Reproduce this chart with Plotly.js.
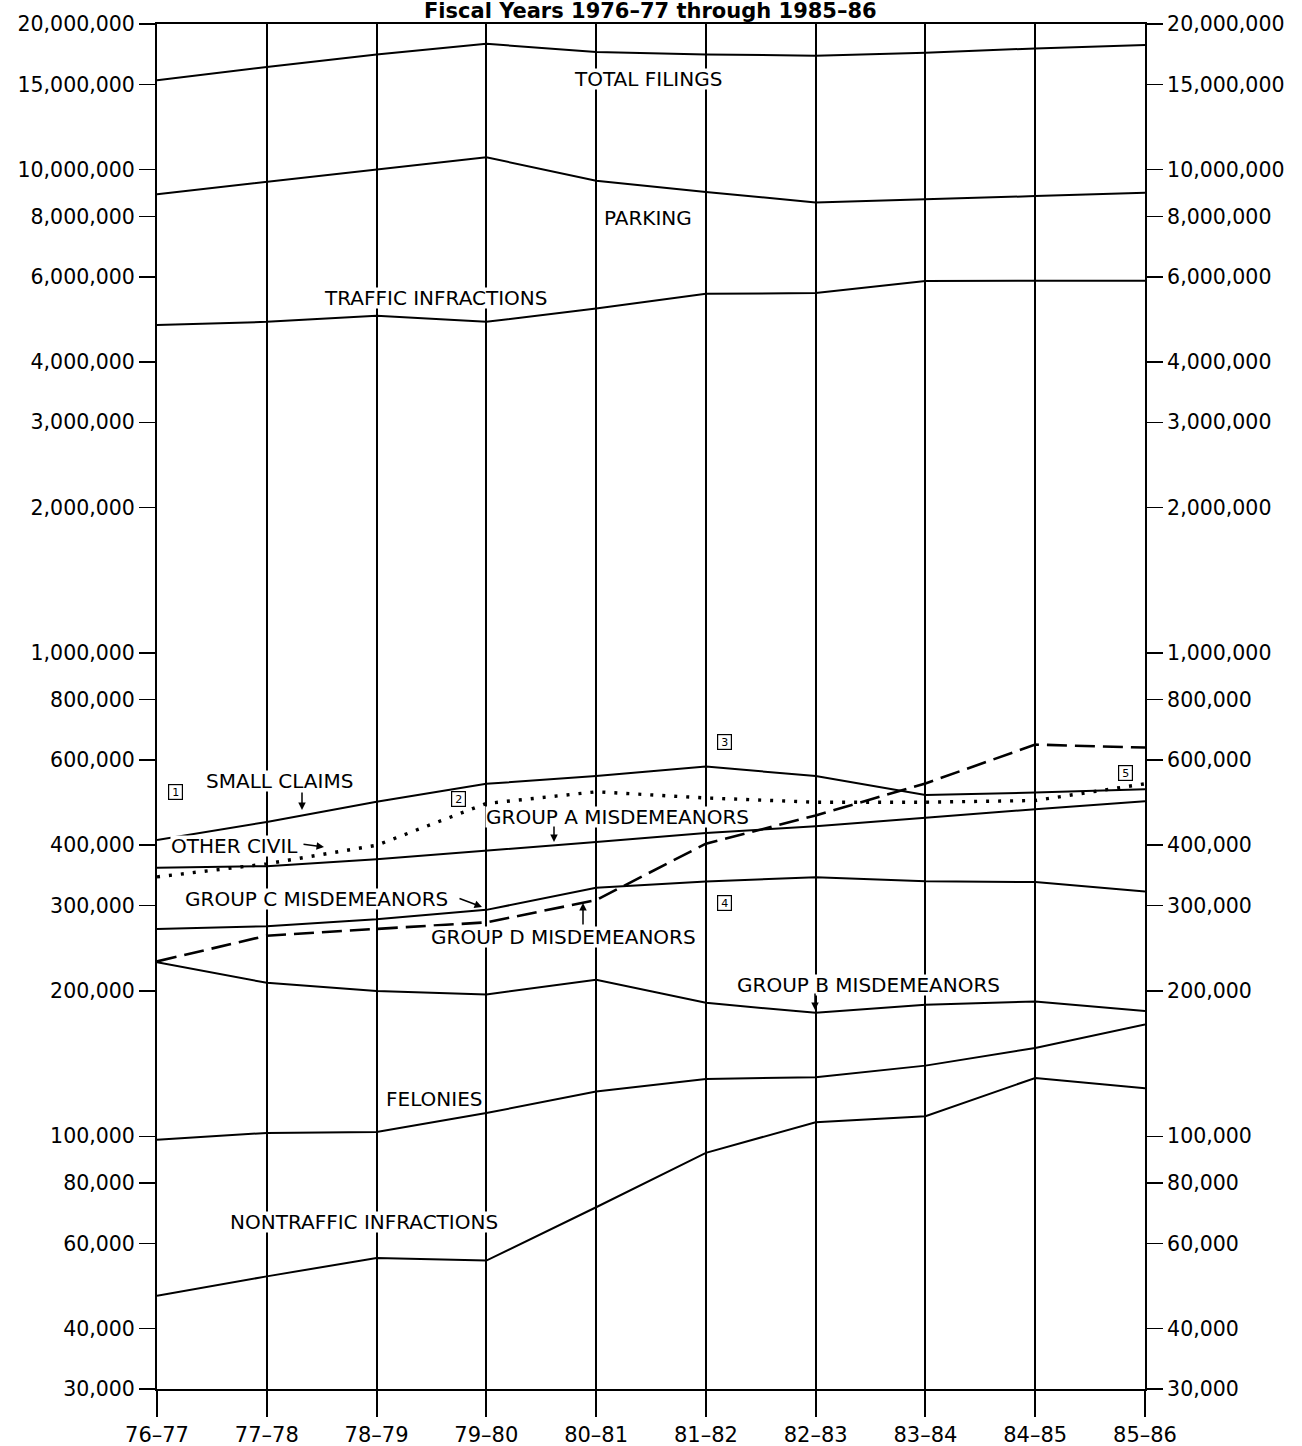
<!DOCTYPE html>
<html>
<head>
<meta charset="utf-8">
<script src="https://cdn.plot.ly/plotly-3.0.1.min.js"></script>
<style>
  html, body { margin: 0; padding: 0; background: #fff; }
  #chart { width: 1302px; height: 1446px; }
</style>
</head>
<body>
<div id="chart"></div>
<script>
// ---------- data ----------
const years = ['76–77','77–78','78–79','79–80','80–81','81–82','82–83','83–84','84–85','85–86'];

const totalFilings       = [15300000, 16300000, 17300000, 18200000, 17500000, 17300000, 17200000, 17450000, 17800000, 18100000];
const parking            = [8890000, 9420000, 10000000, 10600000, 9480000, 8980000, 8550000, 8670000, 8810000, 8950000];
const trafficInfractions = [4770000, 4840000, 4980000, 4840000, 5160000, 5530000, 5550000, 5880000, 5890000, 5890000];
const smallClaims        = [410000, 447000, 492000, 536000, 556000, 582000, 556000, 508000, 514000, 522000];
const otherCivil         = [344000, 366000, 400000, 488000, 516000, 501000, 491000, 491000, 495000, 536000];
const groupA             = [359500, 362000, 374000, 389000, 406000, 424000, 438000, 456000, 475000, 493000];
const groupC             = [268500, 272000, 281000, 294000, 326600, 336700, 343600, 337000, 335600, 321000];
const groupD             = [230000, 260000, 268500, 277000, 308000, 403000, 461000, 537000, 646000, 637000];
const groupB             = [229000, 207700, 199700, 196500, 210700, 188800, 180000, 187000, 190000, 181500];
const felonies           = [98300, 101600, 102000, 111700, 123700, 131400, 132400, 140000, 152300, 170300];
const nontraffic         = [46800, 51300, 56000, 55300, 71300, 92400, 106900, 110000, 132000, 125700];

const tickValues = [30000, 40000, 60000, 80000, 100000, 200000, 300000, 400000, 600000, 800000,
                    1000000, 2000000, 3000000, 4000000, 6000000, 8000000, 10000000, 15000000, 20000000];
const tickLabels = tickValues.map(v => v.toLocaleString('en-US'));

const titleText = '<b>Fiscal Years 1976–77 through 1985–86</b>';

// ---------- layout geometry ----------
const W = 1302, H = 1446;
const PL = 157, PR = 1145, PT = 24, PB = 1389;
const px2x = px => (px - PL) / (PR - PL);
const px2y = py => (PB - py) / (PB - PT);

const FONT = 'DejaVu Sans, Verdana, sans-serif';
const xIdx = years.map((_, i) => i);

function line(y, dash, width) {
  return {
    x: xIdx, y: y, type: 'scatter', mode: 'lines',
    line: { color: '#000', width: width || 2, dash: dash || 'solid' },
    hoverinfo: 'skip', showlegend: false
  };
}

const traces = [
  line(totalFilings),
  line(parking),
  line(trafficInfractions),
  line(smallClaims),
  line(otherCivil, '3px,9px', 3.4),
  line(groupA),
  line(groupC),
  line(groupD, '20px,8px', 2.6),
  line(groupB),
  line(felonies),
  line(nontraffic),
  // invisible trace to bring up the right-hand axis
  Object.assign(line(totalFilings), { yaxis: 'y2', opacity: 0 })
];

function label(text, px, py) {
  return { text: text, xref: 'paper', yref: 'paper', x: px2x(px), y: px2y(py),
           xanchor: 'center', yanchor: 'middle', showarrow: false,
           bgcolor: '#fff', borderpad: 0, height: 20,
           font: { family: FONT, size: 20, color: '#000' } };
}
function arrow(tipX, tipY, fromX, fromY) {
  return { text: '', xref: 'paper', yref: 'paper', x: px2x(tipX), y: px2y(tipY),
           ax: fromX - tipX, ay: fromY - tipY, showarrow: true,
           arrowhead: 2, arrowsize: 1, arrowwidth: 1.5, arrowcolor: '#000', standoff: 0 };
}
function boxed(num, px, py) {
  return { text: num, xref: 'paper', yref: 'paper', x: px2x(px), y: px2y(py),
           xanchor: 'center', yanchor: 'middle', showarrow: false,
           bordercolor: '#000', borderwidth: 1.2, borderpad: 1, bgcolor: '#fff',
           width: 11, height: 12,
           font: { family: FONT, size: 11, color: '#000' } };
}

const annotations = [
  { text: titleText, xref: 'paper', yref: 'paper', x: px2x(650), y: px2y(-3),
    xanchor: 'center', yanchor: 'top', showarrow: false,
    font: { family: FONT, size: 21, color: '#000' } },
  label('TOTAL FILINGS', 648, 79),
  label('PARKING', 648, 218),
  label('TRAFFIC INFRACTIONS', 435, 298),
  label('SMALL CLAIMS', 279, 781),
  arrow(302, 810, 302, 791),
  boxed('1', 175, 792),
  label('OTHER CIVIL', 234, 846),
  arrow(324, 847, 302, 844),
  boxed('2', 458, 799),
  label('GROUP A MISDEMEANORS', 617, 817),
  arrow(554, 842, 554, 825),
  label('GROUP C MISDEMEANORS', 316, 899),
  arrow(482, 907, 458, 898),
  label('GROUP D MISDEMEANORS', 563, 937),
  arrow(583, 903, 583, 926),
  boxed('3', 724, 742),
  boxed('4', 724, 903),
  boxed('5', 1125, 773),
  label('GROUP B MISDEMEANORS', 868, 985),
  arrow(815, 1010, 815, 992),
  label('FELONIES', 434, 1099),
  label('NONTRAFFIC INFRACTIONS', 364, 1222)
];

const yCommon = {
  type: 'log',
  range: [Math.log10(30000), Math.log10(20000000)],
  tickmode: 'array', tickvals: tickValues, ticktext: tickLabels,
  ticks: 'outside', ticklen: 16, tickwidth: 1.5, tickcolor: '#000',
  showgrid: false, zeroline: false,
  showline: true, linecolor: '#000', linewidth: 2,
  tickfont: { family: FONT, size: 20.5, color: '#000' },
  fixedrange: true
};

const layout = {
  width: W, height: H,
  margin: { l: PL, r: W - PR, t: PT, b: H - PB, pad: 0 },
  paper_bgcolor: '#fff', plot_bgcolor: '#fff',
  showlegend: false,
  font: { family: FONT, color: '#000' },
  xaxis: {
    range: [0, years.length - 1],
    tickmode: 'array', tickvals: xIdx, ticktext: years,
    ticks: 'outside', ticklen: 26, tickwidth: 2, tickcolor: '#000',
    showgrid: true, gridcolor: '#000', gridwidth: 2,
    showline: true, mirror: true, linecolor: '#000', linewidth: 2,
    zeroline: false,
    tickfont: { family: FONT, size: 21, color: '#000' },
    fixedrange: true
  },
  yaxis: Object.assign({}, yCommon, { side: 'left' }),
  yaxis2: Object.assign({}, yCommon, { side: 'right', overlaying: 'y', anchor: 'x' }),
  annotations: annotations
};

Plotly.newPlot('chart', traces, layout, { staticPlot: true, displayModeBar: false });
</script>
</body>
</html>
